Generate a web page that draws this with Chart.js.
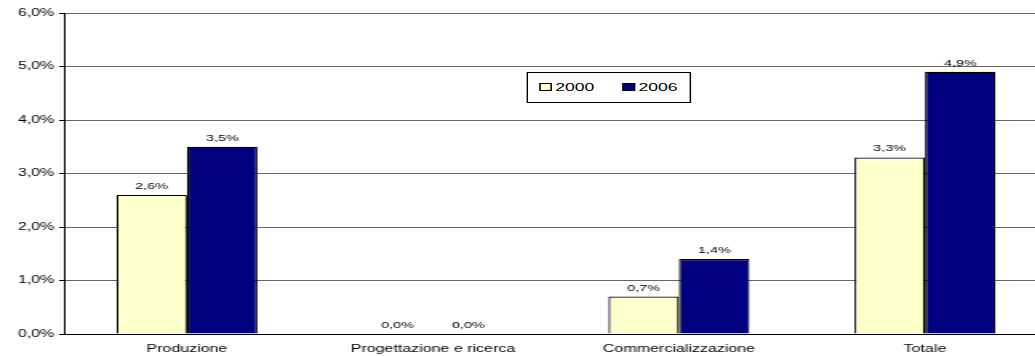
<!DOCTYPE html>
<html>
<head>
<meta charset="utf-8">
<script src="https://cdn.jsdelivr.net/npm/chart.js@4"></script>
<style>
  html, body { margin: 0; padding: 0; background: #fff; overflow: hidden; }
  /* the original picture is stretched sideways, so the whole chart is drawn narrow and widened */
  #wrap { position: relative; width: 655px; height: 356px; transform: scaleX(1.6); transform-origin: 0 0; }
  #legend {
    position: absolute; left: 329px; top: 72px; width: 101px; height: 29px;
    border: 1px solid #000; background: #fff;
    font-family: "Liberation Sans", Arial, sans-serif; font-size: 11px; color: #000;
  }
  #legend span.item { position: absolute; top: 8px; line-height: 13px; }
  #legend span.sw { display: inline-block; width: 6px; height: 6px; border: 1px solid #000; margin-right: 2px; vertical-align: 0px; }
</style>
</head>
<body>
<div id="wrap">
  <canvas id="myBarChart" width="655" height="356"></canvas>
  <div id="legend">
    <span class="item" style="left:7px"><span class="sw" style="background:#FFFFCC"></span>2000</span>
    <span class="item" style="left:59px"><span class="sw" style="background:#000080"></span>2006</span>
  </div>
</div>
<script>
// data
const categories = ["Produzione", "Progettazione e ricerca", "Commercializzazione", "Totale"];
const values2000 = [2.6, 0.0, 0.7, 3.3];
const values2006 = [3.5, 0.0, 1.4, 4.9];
const yTicks = [0, 1, 2, 3, 4, 5, 6];

const fmt = (v) => v.toFixed(1).replace(".", ",") + "%";

// labels above the bars
const barLabels = {
  id: "barLabels",
  afterDatasetsDraw(chart) {
    const ctx = chart.ctx;
    ctx.save();
    ctx.font = "9px 'Liberation Sans', Arial, sans-serif";
    ctx.fillStyle = "#000";
    ctx.textAlign = "center";
    ctx.textBaseline = "bottom";
    chart.data.datasets.forEach((ds, i) => {
      chart.getDatasetMeta(i).data.forEach((bar, j) => {
        ctx.fillText(fmt(ds.data[j]), bar.x, bar.y - 4);
      });
    });
    ctx.restore();
  }
};

const bartx = document.getElementById("myBarChart");

new Chart(bartx, {
  type: "bar",
  data: {
    labels: categories,
    datasets: [
      {
        label: "2000",
        data: values2000,
        backgroundColor: "#FFFFCC",
        borderColor: "#000",
        borderWidth: 1.2,
        categoryPercentage: 0.573,
        barPercentage: 1,
      },
      {
        label: "2006",
        data: values2006,
        backgroundColor: "#000080",
        borderColor: "#000",
        borderWidth: 1.2,
        categoryPercentage: 0.573,
        barPercentage: 1,
      },
    ],
  },
  options: {
    responsive: false,
    animation: false,
    layout: { padding: { top: 13, right: 0, left: 0, bottom: 0 } },
    plugins: { legend: { display: false }, tooltip: { enabled: false } },
    scales: {
      x: {
        grid: { display: false },
        border: { color: "#000", width: 1 },
        ticks: {
          color: "#000",
          font: { family: "'Liberation Sans', Arial, sans-serif", size: 10 },
          padding: 1,
          maxRotation: 0,
          autoSkip: false,
        },
        afterFit: (s) => { s.height = 22; },
      },
      y: {
        min: 0,
        max: 6,
        afterBuildTicks: (s) => { s.ticks = yTicks.map((v) => ({ value: v })); },
        grid: { color: "#666", tickLength: 3, tickColor: "#000" },
        border: { color: "#000", width: 1 },
        ticks: {
          color: "#000",
          padding: 3,
          font: { family: "'Liberation Sans', Arial, sans-serif", size: 10 },
          callback: (v) => fmt(v),
        },
        afterFit: (s) => { s.width = 40; },
      },
    },
  },
  plugins: [barLabels],
});
</script>
</body>
</html>
